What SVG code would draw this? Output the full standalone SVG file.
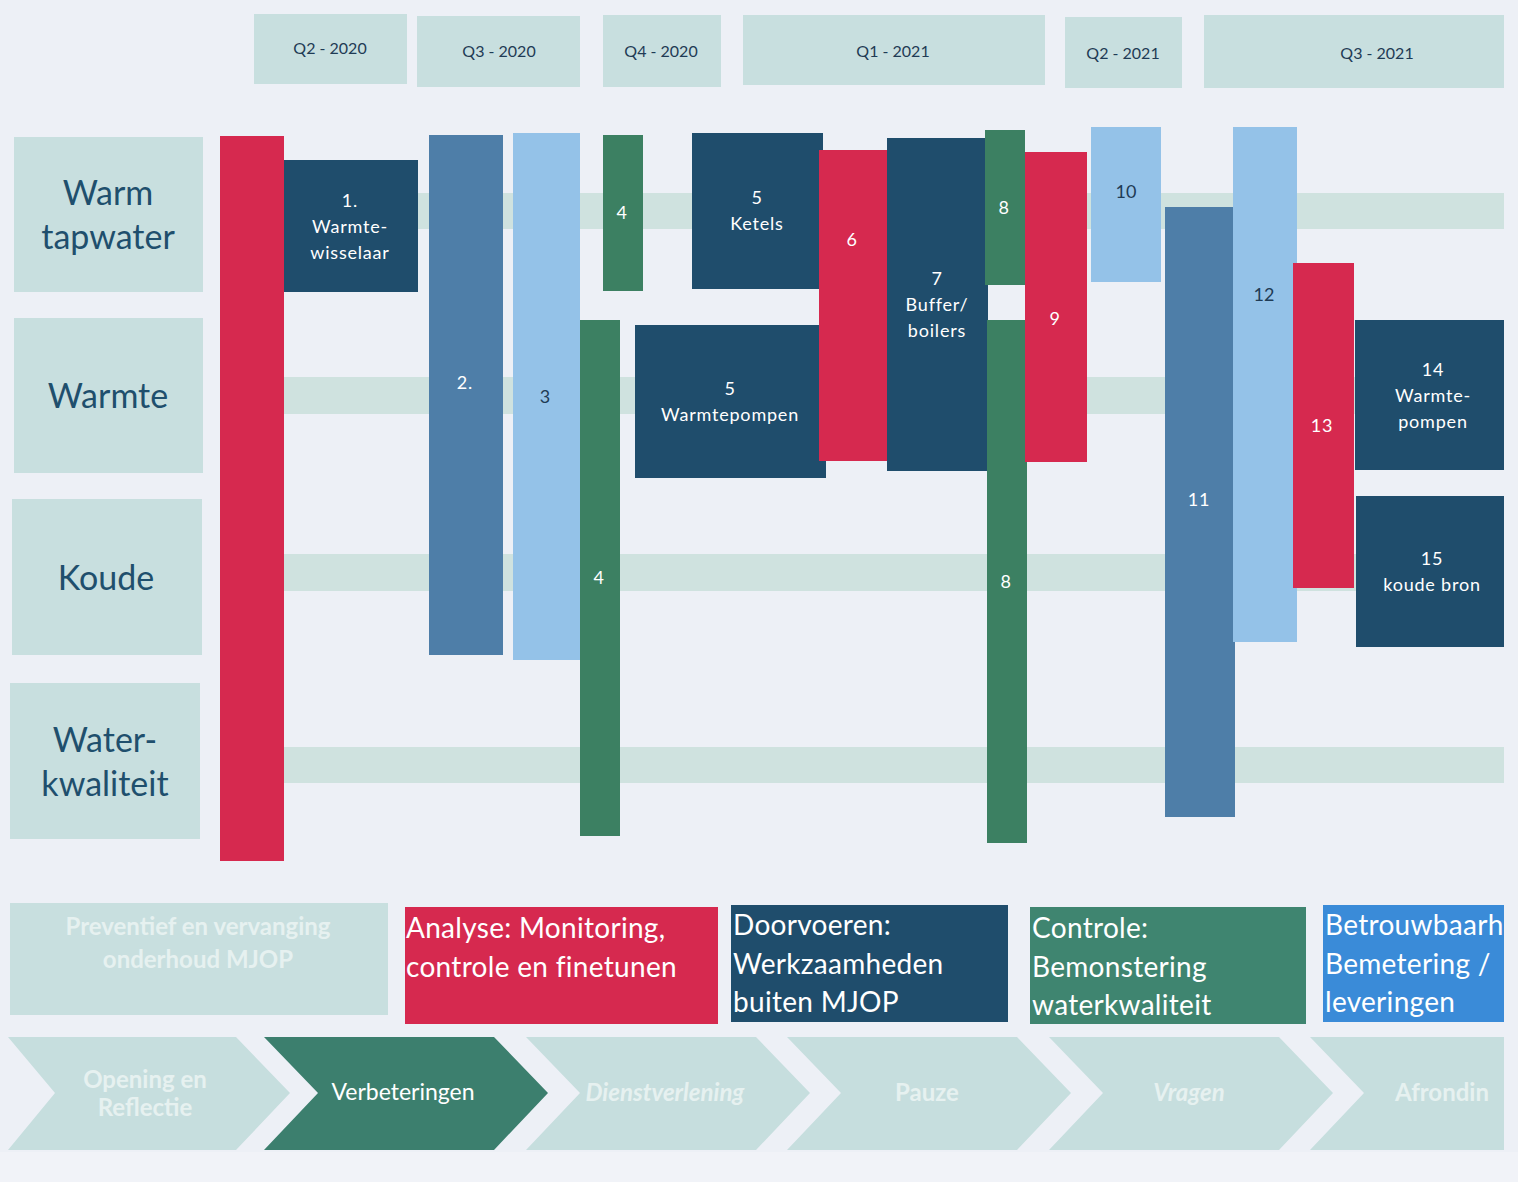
<svg xmlns="http://www.w3.org/2000/svg" width="1518" height="1182" viewBox="0 0 1518 1182">
<style>
text{font-family:Lato,"Open Sans","Liberation Sans",sans-serif}
.bg{fill:#edf0f6}
.teal{fill:#c8dfdf}
.band{fill:#cfe2df}
.red{fill:#d6294f}
.navy{fill:#1f4d6c}
.steel{fill:#4e7ea8}
.lblue{fill:#94c2e8}
.green{fill:#3c8062}
.q{font-size:16px;fill:#1f3b55;text-anchor:middle}
.row{font-size:34px;fill:#1f4f6d;text-anchor:middle}
.w{font-size:18px;fill:#ffffff;text-anchor:middle;letter-spacing:0.8px}
.d{font-size:18px;fill:#1f3b55;text-anchor:middle}
.leg{font-size:28px;fill:#ffffff;letter-spacing:0.3px}
.faint{font-size:24px;font-weight:bold;fill:#e6f1f0;text-anchor:middle}
.start{text-anchor:start}
.chev{fill:#c6dede}
</style>
<defs>
<clipPath id="clipR"><rect x="0" y="0" width="1504" height="1182"/></clipPath>
</defs>
<rect class="bg" x="0" y="0" width="1518" height="1182"/>
<rect fill="#f1f3f8" x="0" y="1152" width="1518" height="30"/>

<g id="bands">
<rect class="band" x="284" y="193" width="1220" height="36"/>
<rect class="band" x="284" y="377" width="1220" height="37"/>
<rect class="band" x="284" y="554" width="1220" height="37"/>
<rect class="band" x="284" y="747" width="1220" height="36"/>
</g>

<g id="quarters">
<g id="q2-2020"><rect class="teal" x="254" y="14" width="153" height="70"/><text class="q" x="330" y="54">Q2 - 2020</text></g>
<g id="q3-2020"><rect class="teal" x="417" y="16" width="163" height="71"/><text class="q" x="499" y="57">Q3 - 2020</text></g>
<g id="q4-2020"><rect class="teal" x="603" y="15" width="118" height="72"/><text class="q" x="661" y="57">Q4 - 2020</text></g>
<g id="q1-2021"><rect class="teal" x="743" y="15" width="302" height="70"/><text class="q" x="893" y="57">Q1 - 2021</text></g>
<g id="q2-2021"><rect class="teal" x="1065" y="17" width="117" height="71"/><text class="q" x="1123" y="59">Q2 - 2021</text></g>
<g id="q3-2021"><rect class="teal" x="1204" y="15" width="300" height="73"/><text class="q" x="1377" y="59">Q3 - 2021</text></g>
</g>

<g id="rows">
<g id="row-warm-tapwater"><rect class="teal" x="14" y="137" width="189" height="155"/><text class="row" x="108" y="205">Warm</text><text class="row" x="108" y="249">tapwater</text></g>
<g id="row-warmte"><rect class="teal" x="14" y="318" width="189" height="155"/><text class="row" x="108" y="408">Warmte</text></g>
<g id="row-koude"><rect class="teal" x="12" y="499" width="190" height="156"/><text class="row" x="106" y="590">Koude</text></g>
<g id="row-waterkwaliteit"><rect class="teal" x="10" y="683" width="190" height="156"/><text class="row" x="105" y="752">Water-</text><text class="row" x="105" y="796">kwaliteit</text></g>
</g>

<g id="bar-red-main"><rect class="red" x="220" y="136" width="64" height="725"/></g>
<g id="box-1"><rect class="navy" x="284" y="160" width="134" height="132"/><text class="w" x="350" y="207">1.</text><text class="w" x="350" y="233">Warmte-</text><text class="w" x="350" y="259">wisselaar</text></g>
<g id="bar-2"><rect class="steel" x="429" y="135" width="74" height="520"/><text class="w" x="465" y="389">2.</text></g>
<g id="bar-3"><rect class="lblue" x="513" y="133" width="67" height="527"/><text class="d" x="545" y="403">3</text></g>
<g id="bar-4a"><rect class="green" x="603" y="135" width="40" height="156"/><text class="w" x="622" y="219">4</text></g>
<g id="bar-4b"><rect class="green" x="580" y="320" width="40" height="516"/><text class="w" x="599" y="584">4</text></g>
<g id="box-5-ketels"><rect class="navy" x="692" y="133" width="131" height="156"/><text class="w" x="757" y="204">5</text><text class="w" x="757" y="230">Ketels</text></g>
<g id="box-5-warmtepompen"><rect class="navy" x="635" y="325" width="191" height="153"/><text class="w" x="730" y="395">5</text><text class="w" x="730" y="421">Warmtepompen</text></g>
<g id="bar-6"><rect class="red" x="819" y="150" width="68" height="311"/><text class="w" x="852" y="246">6</text></g>
<g id="box-7"><rect class="navy" x="887" y="138" width="101" height="333"/><text class="w" x="937" y="285">7</text><text class="w" x="937" y="311">Buffer/</text><text class="w" x="937" y="337">boilers</text></g>
<g id="bar-8a"><rect class="green" x="985" y="130" width="40" height="155"/><text class="w" x="1004" y="214">8</text></g>
<g id="bar-8b"><rect class="green" x="987" y="320" width="40" height="523"/><text class="w" x="1006" y="588">8</text></g>
<g id="bar-9"><rect class="red" x="1025" y="152" width="62" height="310"/><text class="w" x="1055" y="325">9</text></g>
<g id="bar-10"><rect class="lblue" x="1091" y="127" width="70" height="155"/><text class="d" x="1126" y="198">10</text></g>
<g id="bar-11"><rect class="steel" x="1165" y="207" width="70" height="610"/><text class="w" x="1199" y="506">11</text></g>
<g id="bar-12"><rect class="lblue" x="1233" y="127" width="64" height="515"/><text class="d" x="1264" y="301">12</text></g>
<g id="bar-13"><rect class="red" x="1293" y="263" width="61" height="325"/><text class="w" x="1322" y="432">13</text></g>
<g id="box-14"><rect class="navy" x="1355" y="320" width="149" height="150"/><text class="w" x="1433" y="376">14</text><text class="w" x="1433" y="402">Warmte-</text><text class="w" x="1433" y="428">pompen</text></g>
<g id="box-15"><rect class="navy" x="1356" y="496" width="148" height="151"/><text class="w" x="1432" y="565">15</text><text class="w" x="1432" y="591">koude bron</text></g>

<g id="legend">
<g id="leg-preventief"><rect class="teal" x="10" y="903" width="378" height="112"/><text class="faint" x="198" y="935">Preventief en vervanging</text><text class="faint" x="198" y="968">onderhoud MJOP</text></g>
<g id="leg-analyse"><rect class="red" x="405" y="907" width="313" height="117"/><text class="leg" x="406" y="938">Analyse: Monitoring,</text><text class="leg" x="406" y="977">controle en finetunen</text></g>
<g id="leg-doorvoeren"><rect class="navy" x="731" y="905" width="277" height="117"/><text class="leg" x="733" y="935">Doorvoeren:</text><text class="leg" x="733" y="974">Werkzaamheden</text><text class="leg" x="733" y="1012">buiten MJOP</text></g>
<g id="leg-controle"><rect fill="#3f8570" x="1030" y="907" width="276" height="117"/><text class="leg" x="1032" y="938">Controle:</text><text class="leg" x="1032" y="977">Bemonstering</text><text class="leg" x="1032" y="1015">waterkwaliteit</text></g>
<g id="leg-betrouwbaar" clip-path="url(#clipR)"><rect fill="#3a8bd8" x="1323" y="905" width="181" height="117"/><text class="leg" x="1325" y="935">Betrouwbaarh</text><text class="leg" x="1325" y="974">Bemetering /</text><text class="leg" x="1325" y="1012">leveringen</text></g>
</g>

<g id="process" clip-path="url(#clipR)">
<g id="chev-opening"><polygon class="chev" points="8,1037 236,1037 290,1093 236,1150 8,1150 55,1093"/><text class="faint" x="145" y="1088">Opening en</text><text class="faint" x="145" y="1116">Reflectie</text></g>
<g id="chev-verbeteringen"><polygon fill="#3c7f6e" points="264,1037 494,1037 548,1093 494,1150 264,1150 318,1093"/><text x="403" y="1100" font-size="23" fill="#ffffff" text-anchor="middle">Verbeteringen</text></g>
<g id="chev-dienstverlening"><polygon class="chev" points="526,1037 756,1037 810,1093 756,1150 526,1150 580,1093"/><text class="faint" x="665" y="1101" font-style="italic">Dienstverlening</text></g>
<g id="chev-pauze"><polygon class="chev" points="787,1037 1017,1037 1071,1093 1017,1150 787,1150 841,1093"/><text class="faint" x="927" y="1101">Pauze</text></g>
<g id="chev-vragen"><polygon class="chev" points="1049,1037 1279,1037 1333,1093 1279,1150 1049,1150 1103,1093"/><text class="faint" x="1189" y="1101" font-style="italic">Vragen</text></g>
<g id="chev-afronding"><polygon class="chev" points="1310,1037 1540,1037 1594,1093 1540,1150 1310,1150 1364,1093"/><text class="faint start" x="1395" y="1101">Afrondin</text></g>
</g>
</svg>
